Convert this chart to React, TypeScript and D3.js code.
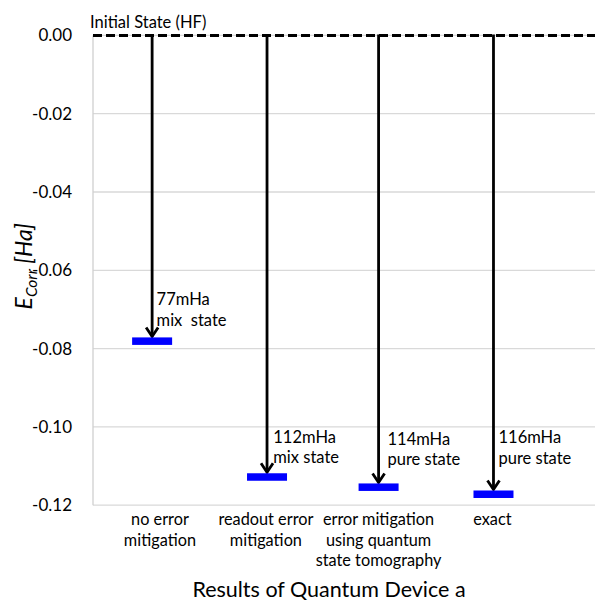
import React from "react";
import * as d3 from "d3";

const categoryLines: string[][] = [
  ["no error", "mitigation"],
  ["readout error", "mitigation"],
  ["error mitigation", "using quantum", "state tomography"],
  ["exact"],
];
const categoryX = [1.0, 1.95, 2.96, 3.98];
const markerX = [0.93, 1.96, 2.96, 3.99];
const energies = [-0.0781, -0.1128, -0.1154, -0.1172];
const annotationLines: string[][] = [
  ["77mHa", "mix  state"],
  ["112mHa", "mix state"],
  ["114mHa", "pure state"],
  ["116mHa", "pure state"],
];
const annotationX = [0.97, 2.016, 3.04, 4.035];
const annotationY = [-0.0689, -0.104, -0.1046, -0.1042];
const yTicks = [0, -0.02, -0.04, -0.06, -0.08, -0.1, -0.12];
const initialLabel = "Initial State (HF)";
const xTitle = "Results of Quantum Device a";

const W = 595;
const H = 602;
const FONT = "Lato, 'Open Sans', sans-serif";

export default function App() {
  const x = d3.scaleLinear().domain([0.4, 4.9]).range([93, 595]);
  const y = d3.scaleLinear().domain([0, -0.12]).range([35.4, 505.2]);
  const fmt = d3.format(".2f");
  const barW = 40;
  const barH = 7.5;

  return (
    <svg
      width={W}
      height={H}
      style={{ position: "absolute", left: 0, top: 0, background: "#fff" }}
      fontFamily={FONT}
    >
      <rect x={0} y={0} width={W} height={H} fill="#fff" />
      {yTicks.map((t) => (
        <line
          key={"g" + t}
          x1={x(0.4)}
          x2={x(4.9)}
          y1={y(t)}
          y2={y(t)}
          stroke="#d9d9d9"
          strokeWidth={1.3}
        />
      ))}
      <line x1={x(0.4)} x2={x(0.4)} y1={y(0)} y2={y(-0.12)} stroke="#d0d0d0" strokeWidth={1.3} />
      {yTicks.map((t) => (
        <text
          key={"t" + t}
          x={72}
          y={y(t)}
          dy="0.35em"
          textAnchor="end"
          fontSize={17}
          fill="#000"
        >
          {fmt(t).replace("−", "-")}
        </text>
      ))}
      <text
        transform={`translate(32,${(y(0) + y(-0.12)) / 2 - 4}) rotate(-90)`}
        textAnchor="middle"
        fontSize={23}
        fontStyle="italic"
        fill="#000"
      >
        E<tspan fontSize={15.5} dy={5}>Corr</tspan>
        <tspan dy={-5}> [Ha]</tspan>
      </text>
      <line
        x1={x(0.4)}
        x2={W}
        y1={y(0)}
        y2={y(0)}
        stroke="#000"
        strokeWidth={3}
        strokeDasharray="9,4"
      />
      <text x={90} y={28} fontSize={16.5} fill="#000">
        {initialLabel}
      </text>
      {energies.map((e, i) => {
        const cx = x(markerX[i]);
        const tipY = y(e) - barH / 2 - 1;
        return (
          <g key={"a" + i}>
            <line x1={cx} x2={cx} y1={y(0) - 1} y2={tipY} stroke="#000" strokeWidth={2.8} />
            <path
              d={`M${cx - 6},${tipY - 9} L${cx},${tipY} L${cx + 6},${tipY - 9}`}
              fill="none"
              stroke="#000"
              strokeWidth={2.8}
            />
            <rect x={cx - barW / 2} y={y(e) - barH / 2} width={barW} height={barH} fill="#0000ff" />
          </g>
        );
      })}
      {annotationLines.map((lines, i) => (
        <text
          key={"n" + i}
          x={x(annotationX[i])}
          y={y(annotationY[i])}
          fontSize={16.5}
          fill="#000"
          style={{ whiteSpace: "pre" }}
        >
          {lines.map((l, j) => (
            <tspan key={j} x={x(annotationX[i])} dy={j === 0 ? 0 : 20.5}>
              {l}
            </tspan>
          ))}
        </text>
      ))}
      {categoryLines.map((lines, i) => (
        <text key={"c" + i} x={x(categoryX[i])} y={525} textAnchor="middle" fontSize={16.3} fill="#000">
          {lines.map((l, j) => (
            <tspan key={j} x={x(categoryX[i])} dy={j === 0 ? 0 : 20.5}>
              {l}
            </tspan>
          ))}
        </text>
      ))}
      <text x={329} y={597} textAnchor="middle" fontSize={21.5} fill="#000">
        {xTitle}
      </text>
    </svg>
  );
}
